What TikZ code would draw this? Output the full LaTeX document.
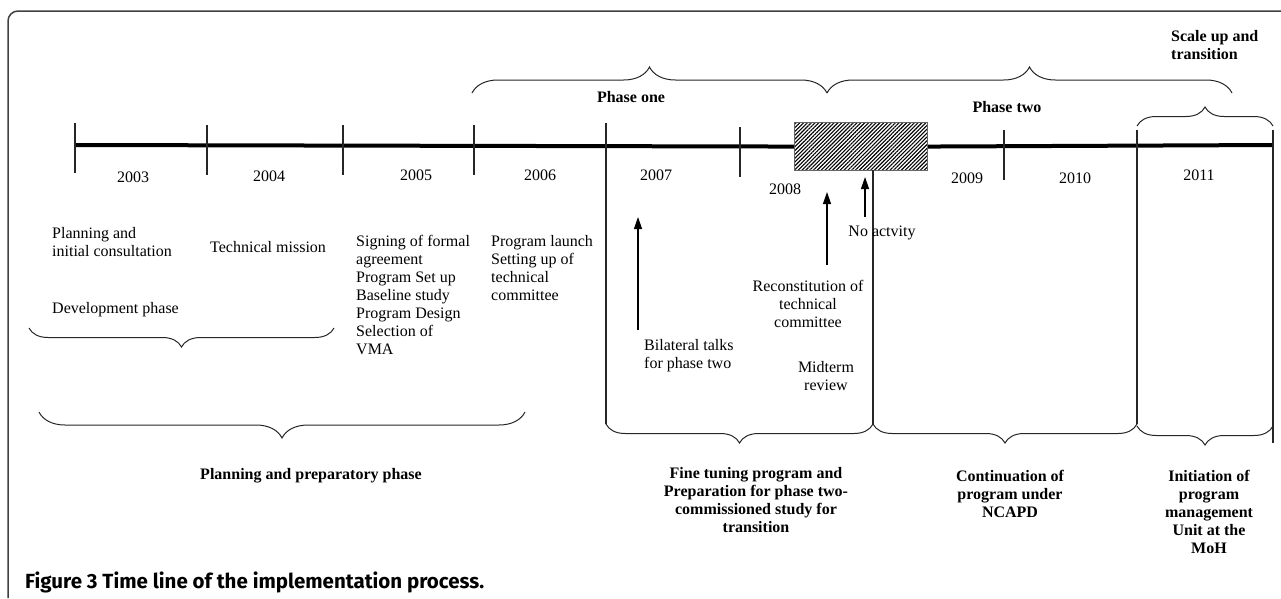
\documentclass[tikz,border=0pt]{standalone}
\usepackage{fontspec}
\setmainfont{Liberation Serif}
\newfontfamily\capfont{Fira Sans}
\usetikzlibrary{arrows.meta,decorations.pathreplacing,patterns.meta}
\begin{document}
\begin{tikzpicture}[x=1pt,y=-1pt,
  every node/.style={inner sep=0pt, font=\fontsize{16}{18}\selectfont},
  lbl/.style={align=left, anchor=north west},
  hd/.style={font=\fontsize{16}{18}\selectfont\bfseries, align=center},
  tickmark/.style={line width=1.1pt, draw=black!85},
  tl/.style={line width=4pt, draw=black},
  bracebot/.style={decorate, decoration={brace, mirror, amplitude=#1}, line width=1pt, draw=black!85},
  bracetop/.style={decorate, decoration={brace, amplitude=#1}, line width=1pt, draw=black!85},
  arr/.style={line width=1.2pt, draw=black, -{Triangle[length=12pt,width=8pt]}},
]
\useasboundingbox (0,0) rectangle (1281,598);
% frame
\draw[line width=1.5pt, black!75, rounded corners=10pt] (8,598) -- (8,11) -- (1281,11);

% gap box
\node[draw=black!60, line width=1.2pt, minimum width=133pt, minimum height=48pt,
      pattern={Lines[angle=45,distance=2.7pt,line width=1.1pt]}, anchor=north west] (gap) at (794,122) {};
\coordinate (t0) at (75,145);
\coordinate (t1) at (1273,145);
\draw[tl] (t0) -- (gap.west);
\draw[tl] (gap.east) -- (t1);

% ticks
\draw[tickmark] (75,123) -- (75,173);
\draw[tickmark] (207,125) -- (207,175);
\draw[tickmark] (343,125) -- (343,175);
\draw[tickmark] (474,125) -- (474,175);
\draw[tickmark] (740,127) -- (740,177);
\draw[tickmark] (1004,130) -- (1004,180);
% long lines
\draw[tickmark] (606,123) -- (606,424);
\coordinate (gapfoot) at (873,170);
\draw[tickmark] (gapfoot) -- (873,424);
\draw[tickmark] (1137,130) -- (1137,424);
\draw[tickmark] (1273,130) -- (1273,443);

% years
\node (y2003) at (133,177) {2003};
\node (y2004) at (269,176) {2004};
\node (y2005) at (416,175) {2005};
\node (y2006) at (540,175) {2006};
\node (y2007) at (656,175) {2007};
\node (y2008) at (785,189) {2008};
\node (y2009) at (967,178) {2009};
\node (y2010) at (1075,178) {2010};
\node (y2011) at (1199,175) {2011};

% top braces
\draw[bracetop=26pt] (472,93) -- (827,93);
\draw[bracetop=26pt] (827,93) -- (1232,93);
\draw[bracetop=19pt] (1137,126) -- (1273,126);
\node[hd] (p1) at (631,97) {Phase one};
\node[hd] (p2) at (1007,107) {Phase two};
\node[hd, align=left, anchor=north west] (scale) at (1171,30) {Scale up and\\transition};

% activity texts
\node[lbl] (plan) at (52,227) {Planning and\\initial consultation};
\node[anchor=west] (techm) at (210,247) {Technical mission};
\node[lbl] (sign) at (356,235) {Signing of formal\\agreement\\Program Set up\\Baseline study\\Program Design\\Selection of\\VMA};
\node[lbl] (launch) at (491,235) {Program launch\\Setting up of\\technical\\committee};
\node[anchor=west] (dev) at (52,310) {Development phase};
\node[lbl] (bil) at (644,339) {Bilateral talks\\for phase two};
\node[align=center, anchor=north] (recon) at (808,280) {Reconstitution of\\technical\\committee};
\node[align=center, anchor=north] (mid) at (826,361) {Midterm\\review};
\node (noact) at (882,233) {No actvity};

% arrows
\coordinate (a1s) at (638,330); \coordinate (a1e) at (638,217);
\coordinate (a2s) at (827,265); \coordinate (a2e) at (827,192);
\coordinate (a3s) at (865,217); \coordinate (a3e) at (865,177);
\draw[arr] (a1s) -- (a1e);
\draw[arr] (a2s) -- (a2e);
\draw[arr] (a3s) -- (a3e);

% bottom braces
\draw[bracebot=19pt] (29,328) -- (334,328);
\draw[bracebot=26pt] (39,412) -- (525,412);
\draw[bracebot=19pt] (606,424) -- (873,424);
\draw[bracebot=19pt] (873,424) -- (1137,424);
\draw[bracebot=19pt] (1137,426) -- (1273,426);

\node[hd] (prep) at (311,476) {Planning and preparatory phase};
\node[hd, anchor=north] (fine) at (756,467) {Fine tuning program and\\Preparation for phase two-\\commissioned study for\\transition};
\node[hd, anchor=north] (cont) at (1010,470) {Continuation of\\program under\\NCAPD};
\node[hd, anchor=north] (init) at (1209,470) {Initiation of\\program\\management\\Unit at the\\MoH};

% caption
\node[anchor=west, font=\capfont\fontsize{20.5}{24}\selectfont\bfseries] (cap) at (25,582) {Figure 3 Time line of the implementation process.};
\end{tikzpicture}
\end{document}
